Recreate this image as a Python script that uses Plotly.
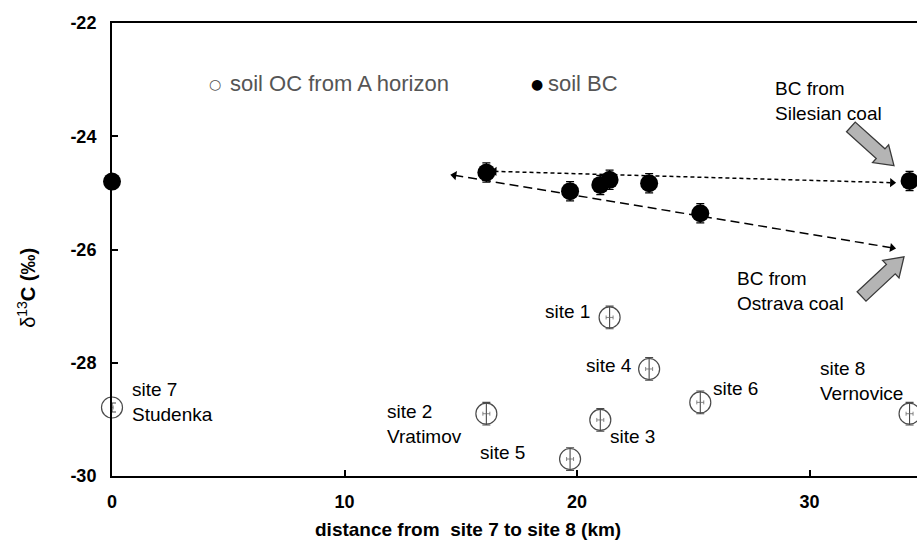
import math
import plotly.graph_objects as go

# Sampling sites along the transect, distance from site 7 (km)
site_names = ["site 7", "site 2", "site 5", "site 3", "site 1", "site 4", "site 6", "site 8"]
site_km = [0.0, 16.1, 19.7, 21.0, 21.4, 23.1, 25.3, 34.3]

# soil organic carbon (A horizon), δ13C in ‰
oc_d13c = [-28.79, -28.90, -29.70, -29.01, -27.20, -28.11, -28.70, -28.90]
oc_err_y = [0.08, 0.20, 0.20, 0.20, 0.20, 0.20, 0.20, 0.20]
oc_err_x = [0.05, 0.15, 0.15, 0.15, 0.15, 0.15, 0.15, 0.15]

# soil black carbon, δ13C in ‰
bc_d13c = [-24.80, -24.64, -24.97, -24.86, -24.77, -24.83, -25.36, -24.79]
bc_err_y = [0.10, 0.17, 0.17, 0.17, 0.17, 0.17, 0.17, 0.17]

# mixing trends (start, end) drawn as double-headed dashed arrows
silesian_x = [16.45, 33.55]
silesian_y = [-24.62, -24.82]
ostrava_x = [14.72, 33.55]
ostrava_y = [-24.69, -25.97]

x_tick_vals = [0, 10, 20, 30]
x_tick_text = ["0", "10", "20", "30"]
y_tick_vals = [-30, -28, -26, -24, -22]
y_tick_text = ["-30", "-28", "-26", "-24", "-22"]

# text labels: (text, x, y)
site_labels = [
    ("site 7<br>Studenka", 0.77, -28.69),
    ("site 2<br>Vratimov", 11.74, -29.08),
    ("site 5", 15.74, -29.58),
    ("site 1", 18.54, -27.10),
    ("site 4", 20.29, -28.04),
    ("site 6", 25.74, -28.45),
    ("site 3", 21.33, -29.31),
    ("site 8<br>Vernovice", 30.37, -28.32),
    ("BC from<br>Silesian coal", 28.41, -23.38),
    ("BC from<br>Ostrava coal", 26.80, -26.74),
]

# legend entries: (symbol, symbol colour, symbol x, label, label x, y)
legend_items = [
    ("○", "#555555", 4.09, "soil OC from A horizon", 4.99, -23.07),
    ("●", "black", 17.92, "soil BC", 18.67, -23.07),
]

X_RANGE = [0, 34.62]
Y_RANGE = [-30, -22]
W, H = 917, 543
M = dict(l=112, r=0, t=23, b=67)
px_x = (W - M["l"] - M["r"]) / (X_RANGE[1] - X_RANGE[0])
px_y = (H - M["t"] - M["b"]) / (Y_RANGE[1] - Y_RANGE[0])

fig = go.Figure()


def trend(xs, ys, dash):
    # screen-space angle of the segment so the end triangles follow the line
    theta = math.degrees(math.atan2(-(ys[1] - ys[0]) * px_y, (xs[1] - xs[0]) * px_x))
    return go.Scatter(x=xs, y=ys, mode="lines+markers",
                      line=dict(color="black", width=1.5, dash=dash),
                      marker=dict(symbol=["triangle-left", "triangle-right"], size=8,
                                  angle=[theta, theta], color="black"),
                      hoverinfo="skip", showlegend=False)


fig.add_trace(trend(silesian_x, silesian_y, "4px,3px"))
fig.add_trace(trend(ostrava_x, ostrava_y, "9px,5px"))

# soil OC
fig.add_trace(go.Scatter(
    x=site_km, y=oc_d13c, mode="markers", name="soil OC from A horizon",
    marker=dict(symbol="circle-open", size=21, color="#4a4a4a", line=dict(width=1.2)),
    error_y=dict(type="data", array=oc_err_y, color="#4a4a4a", thickness=1.1, width=4),
    error_x=dict(type="data", array=oc_err_x, color="#6a6a6a", thickness=0.8, width=2),
    cliponaxis=False, showlegend=False))

# soil BC
fig.add_trace(go.Scatter(
    x=site_km, y=bc_d13c, mode="markers", name="soil BC",
    marker=dict(symbol="circle", size=18, color="black"),
    error_y=dict(type="data", array=bc_err_y, color="black", thickness=1.2, width=4),
    cliponaxis=False, showlegend=False))

annotations = []

for text, x, y in site_labels:
    annotations.append(dict(x=x, y=y, xref="x", yref="y", text=text, showarrow=False,
                            xanchor="left", yanchor="middle", align="left",
                            font=dict(size=19, color="black")))

for sym, sym_col, sx, label, lx, y in legend_items:
    annotations.append(dict(x=sx, y=y, xref="x", yref="y", text=sym, showarrow=False,
                            xanchor="left", yanchor="middle",
                            font=dict(family="DejaVu Sans", size=14, color=sym_col)))
    annotations.append(dict(x=lx, y=y, xref="x", yref="y", text=label, showarrow=False,
                            xanchor="left", yanchor="middle",
                            font=dict(size=22, color="#555555")))

# axis titles
annotations.append(dict(x=0.442, y=-0.117, xref="paper", yref="paper", showarrow=False,
                        xanchor="center", yanchor="middle",
                        text="<b>distance from\u00a0\u00a0site 7 to site 8 (km)</b>",
                        font=dict(size=19, color="black")))
annotations.append(dict(x=-0.107, y=0.415, xref="paper", yref="paper", showarrow=False,
                        xanchor="center", yanchor="middle", textangle=-90,
                        text="δ<sup>13</sup><b>C (‰)</b>",
                        font=dict(size=20, color="black")))


# grey block arrows pointing at the coal end-members
def block_arrow(tip_x, tip_y, angle_deg, length=58, shaft=13, head_w=24, head_l=18):
    a = math.radians(angle_deg)
    d = (math.cos(a), math.sin(a))          # screen direction, y down
    n = (-d[1], d[0])
    pts = [
        (0, 0),
        (-head_l * d[0] + head_w / 2 * n[0], -head_l * d[1] + head_w / 2 * n[1]),
        (-head_l * d[0] + shaft / 2 * n[0], -head_l * d[1] + shaft / 2 * n[1]),
        (-length * d[0] + shaft / 2 * n[0], -length * d[1] + shaft / 2 * n[1]),
        (-length * d[0] - shaft / 2 * n[0], -length * d[1] - shaft / 2 * n[1]),
        (-head_l * d[0] - shaft / 2 * n[0], -head_l * d[1] - shaft / 2 * n[1]),
        (-head_l * d[0] - head_w / 2 * n[0], -head_l * d[1] - head_w / 2 * n[1]),
    ]
    path = "M " + " L ".join(f"{px:.2f},{-py:.2f}" for px, py in pts) + " Z"
    return dict(type="path", xref="x", yref="y", xsizemode="pixel", ysizemode="pixel",
                xanchor=tip_x, yanchor=tip_y, path=path,
                fillcolor="#b4b4b4", line=dict(color="#3a3a3a", width=1.3), layer="above")


shapes = [
    block_arrow(33.63, -24.52, 42),
    block_arrow(34.06, -26.13, -43),
]

tick_font = dict(size=18, color="black", weight="bold")

fig.update_layout(
    width=W, height=H,
    margin=M,
    paper_bgcolor="white", plot_bgcolor="white",
    font=dict(family="Liberation Sans, Arial, sans-serif", color="black"),
    annotations=annotations, shapes=shapes,
    xaxis=dict(range=X_RANGE, tickvals=x_tick_vals,
               ticktext=[f"<b>{t}</b>" for t in x_tick_text],
               showgrid=False, zeroline=False, showline=True, linecolor="black",
               linewidth=2, mirror=True, ticks="inside", ticklen=6, tickwidth=1.5,
               tickcolor="black", ticklabelstandoff=8, tickfont=tick_font),
    yaxis=dict(range=Y_RANGE, tickvals=y_tick_vals,
               ticktext=[f"<b>{t}</b>" for t in y_tick_text],
               showgrid=False, zeroline=False, showline=True, linecolor="black",
               linewidth=2, ticks="inside", ticklen=6, tickwidth=1.5,
               tickcolor="black", ticklabelstandoff=10, tickfont=tick_font),
)

fig.write_html("out.html")
